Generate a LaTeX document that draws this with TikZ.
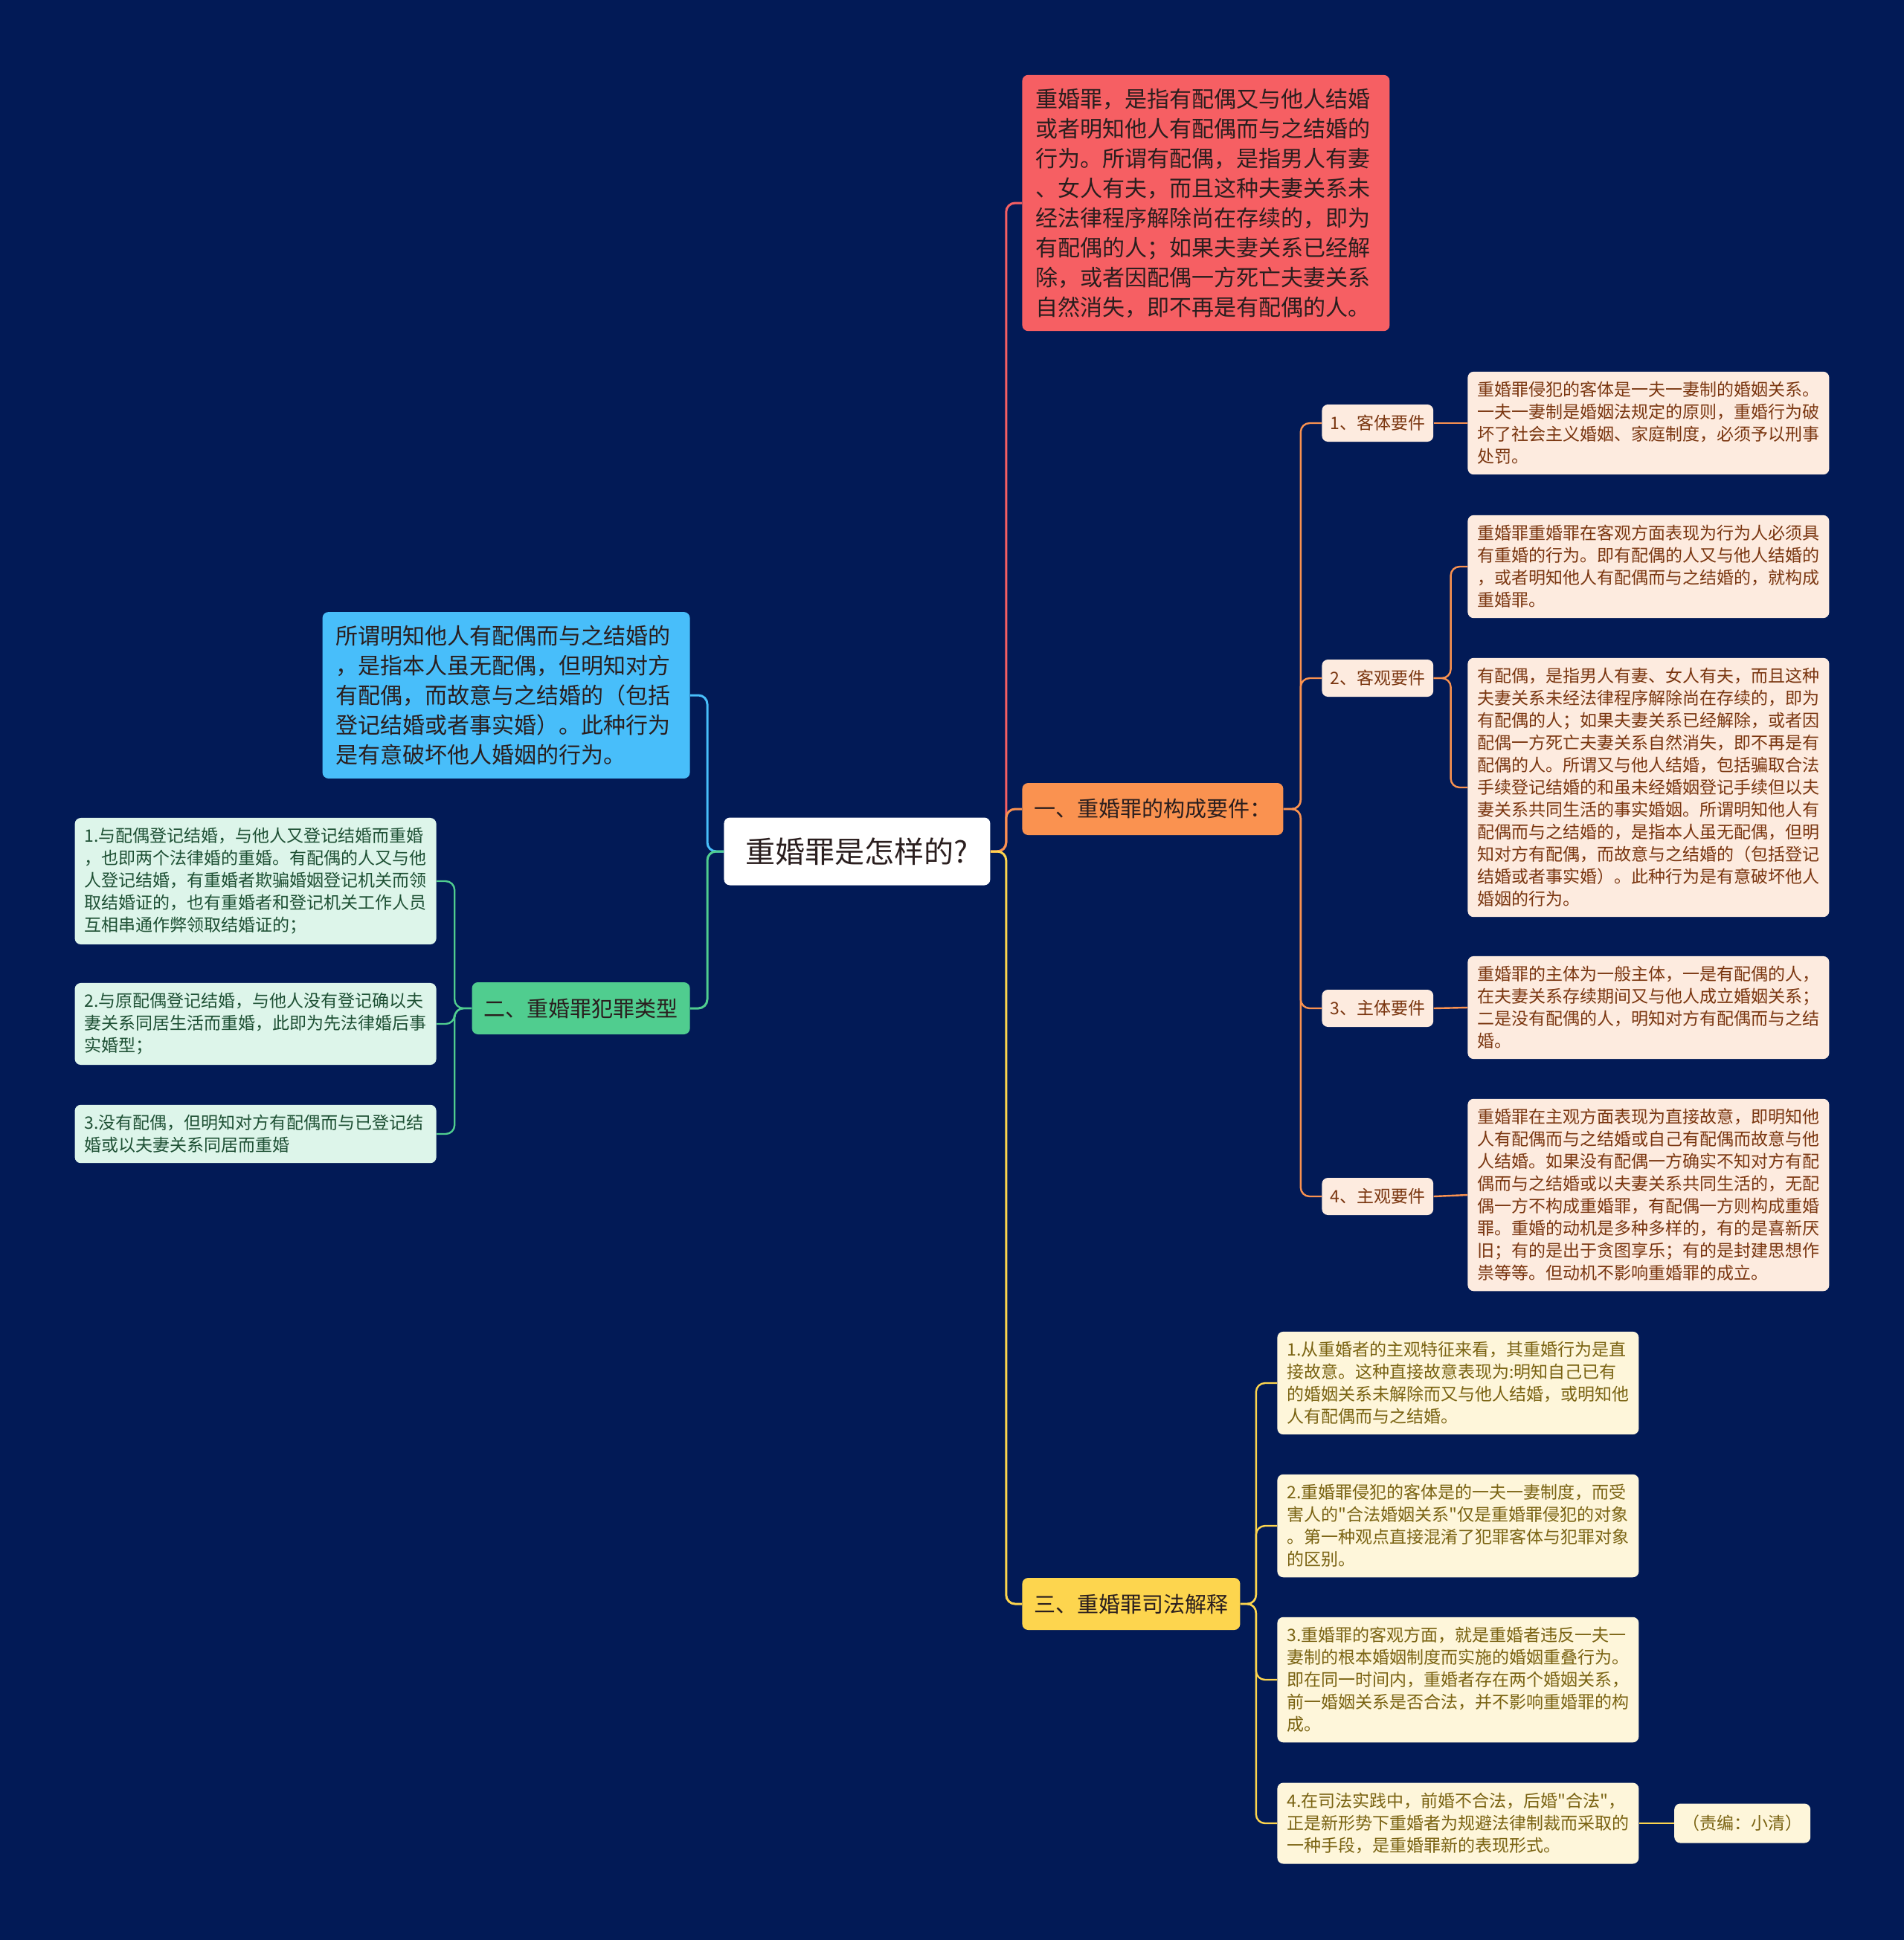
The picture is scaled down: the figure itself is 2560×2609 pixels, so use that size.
\documentclass[tikz,border=0pt]{standalone}
\usepackage{fontspec}
\setmainfont{Noto Sans CJK SC}[Ligatures=TeXOff]
\usepackage{xcolor}
\usepackage{tikz}
\usetikzlibrary{positioning}

\definecolor{navy}{HTML}{021A56}
\definecolor{coral}{HTML}{F65F63}
\definecolor{sky}{HTML}{48BEFA}
\definecolor{jade}{HTML}{50CD8F}
\definecolor{amber}{HTML}{FA9250}
\definecolor{gold}{HTML}{FDD54E}
\definecolor{peach}{HTML}{FDEBDF}
\definecolor{brown}{HTML}{7A3610}
\definecolor{mint}{HTML}{DDF5EA}
\definecolor{forest}{HTML}{1E5034}
\definecolor{cream}{HTML}{FEF6DA}
\definecolor{olive}{HTML}{7A6312}
\definecolor{ink}{HTML}{2A1E1E}

\begin{document}
\begin{tikzpicture}[
    x=0.5pt, y=-0.5pt,
    root/.style={rounded corners=4pt, fill=white, text=ink, minimum width=179pt,
                minimum height=45.5pt, font=\fontsize{20}{24}\selectfont},
    topic/.style={rounded corners=4pt, text=ink, minimum height=35pt, inner xsep=8pt,
                font=\fontsize{14.5}{18}\selectfont},
    memo/.style={rounded corners=4pt, text=ink, text width=229pt, align=left,
                inner xsep=9pt, inner ysep=9pt, font=\fontsize{15}{20}\selectfont},
    reqbox/.style={rounded corners=4pt, fill=peach, text=brown, minimum height=25pt,
                inner xsep=5.5pt, font=\fontsize{11.5}{15}\selectfont},
    leaf/.style={rounded corners=4pt, text width=230pt, align=left, inner xsep=6.5pt,
                inner ysep=6.75pt, font=\fontsize{11.5}{15}\selectfont},
    link/.style={line width=1.5pt, rounded corners=6pt},
    twig/.style={line width=1.2pt, rounded corners=6pt}
    ]
    \useasboundingbox (0,0) rectangle (2560,2609);
    \fill[navy] (0,0) rectangle (2560,2609);

    \node[root, anchor=west] (root) at (973,1145) {重婚罪是怎样的?};

    % right side
    \node[memo, fill=coral, anchor=west] (def) at (1374,273)
        {重婚罪，是指有配偶又与他人结婚\\或者明知他人有配偶而与之结婚的\\行为。所谓有配偶，是指男人有妻\\、女人有夫，而且这种夫妻关系未\\经法律程序解除尚在存续的，即为\\有配偶的人；如果夫妻关系已经解\\除，或者因配偶一方死亡夫妻关系\\自然消失，即不再是有配偶的人。};
    \node[topic, fill=amber, anchor=west] (part1) at (1374,1088) {一、重婚罪的构成要件：};
    \node[topic, fill=gold, anchor=west] (part3) at (1374,2157) {三、重婚罪司法解释};

    \node[reqbox, anchor=west] (req1) at (1777,569) {1、客体要件};
    \node[reqbox, anchor=west] (req2) at (1777,912) {2、客观要件};
    \node[reqbox, anchor=west] (req3) at (1777,1356) {3、主体要件};
    \node[reqbox, anchor=west] (req4) at (1777,1609) {4、主观要件};

    \node[leaf, fill=peach, text=brown, anchor=west] (obj) at (1973,569)
        {重婚罪侵犯的客体是一夫一妻制的婚姻关系。\\一夫一妻制是婚姻法规定的原则，重婚行为破\\坏了社会主义婚姻、家庭制度，必须予以刑事\\处罚。};
    \node[leaf, fill=peach, text=brown, anchor=west] (actA) at (1973,762)
        {重婚罪重婚罪在客观方面表现为行为人必须具\\有重婚的行为。即有配偶的人又与他人结婚的\\，或者明知他人有配偶而与之结婚的，就构成\\重婚罪。};
    \node[leaf, fill=peach, text=brown, anchor=west] (actB) at (1973,1059)
        {有配偶，是指男人有妻、女人有夫，而且这种\\夫妻关系未经法律程序解除尚在存续的，即为\\有配偶的人；如果夫妻关系已经解除，或者因\\配偶一方死亡夫妻关系自然消失，即不再是有\\配偶的人。所谓又与他人结婚，包括骗取合法\\手续登记结婚的和虽未经婚姻登记手续但以夫\\妻关系共同生活的事实婚姻。所谓明知他人有\\配偶而与之结婚的，是指本人虽无配偶，但明\\知对方有配偶，而故意与之结婚的（包括登记\\结婚或者事实婚）。此种行为是有意破坏他人\\婚姻的行为。};
    \node[leaf, fill=peach, text=brown, anchor=west] (subj) at (1973,1355)
        {重婚罪的主体为一般主体，一是有配偶的人，\\在夫妻关系存续期间又与他人成立婚姻关系；\\二是没有配偶的人，明知对方有配偶而与之结\\婚。};
    \node[leaf, fill=peach, text=brown, anchor=west] (mind) at (1973,1607)
        {重婚罪在主观方面表现为直接故意，即明知他\\人有配偶而与之结婚或自己有配偶而故意与他\\人结婚。如果没有配偶一方确实不知对方有配\\偶而与之结婚或以夫妻关系共同生活的，无配\\偶一方不构成重婚罪，有配偶一方则构成重婚\\罪。重婚的动机是多种多样的，有的是喜新厌\\旧；有的是出于贪图享乐；有的是封建思想作\\祟等等。但动机不影响重婚罪的成立。};

    \node[leaf, fill=cream, text=olive, anchor=west] (law1) at (1717,1860)
        {1.从重婚者的主观特征来看，其重婚行为是直\\接故意。这种直接故意表现为:明知自己已有\\的婚姻关系未解除而又与他人结婚，或明知他\\人有配偶而与之结婚。};
    \node[leaf, fill=cream, text=olive, anchor=west] (law2) at (1717,2052)
        {2.重婚罪侵犯的客体是的一夫一妻制度，而受\\害人的"合法婚姻关系"仅是重婚罪侵犯的对象\\。第一种观点直接混淆了犯罪客体与犯罪对象\\的区别。};
    \node[leaf, fill=cream, text=olive, anchor=west] (law3) at (1717,2259)
        {3.重婚罪的客观方面，就是重婚者违反一夫一\\妻制的根本婚姻制度而实施的婚姻重叠行为。\\即在同一时间内，重婚者存在两个婚姻关系，\\前一婚姻关系是否合法，并不影响重婚罪的构\\成。};
    \node[leaf, fill=cream, text=olive, anchor=west] (law4) at (1717,2452)
        {4.在司法实践中，前婚不合法，后婚"合法"，\\正是新形势下重婚者为规避法律制裁而采取的\\一种手段，是重婚罪新的表现形式。};
    \node[reqbox, fill=cream, text=olive, minimum width=91.5pt, minimum height=26.5pt,
        right=23.5pt of law4] (editor) {（责编：小清）};

    % left side
    \node[memo, fill=sky, anchor=east] (know) at (928,935)
        {所谓明知他人有配偶而与之结婚的\\，是指本人虽无配偶，但明知对方\\有配偶，而故意与之结婚的（包括\\登记结婚或者事实婚）。此种行为\\是有意破坏他人婚姻的行为。};
    \node[topic, fill=jade, anchor=east] (part2) at (928,1356) {二、重婚罪犯罪类型};

    \node[leaf, fill=mint, text=forest, anchor=east] (kind1) at (587,1185)
        {1.与配偶登记结婚，与他人又登记结婚而重婚\\，也即两个法律婚的重婚。有配偶的人又与他\\人登记结婚，有重婚者欺骗婚姻登记机关而领\\取结婚证的，也有重婚者和登记机关工作人员\\互相串通作弊领取结婚证的；};
    \node[leaf, fill=mint, text=forest, anchor=east] (kind2) at (587,1377)
        {2.与原配偶登记结婚，与他人没有登记确以夫\\妻关系同居生活而重婚，此即为先法律婚后事\\实婚型；};
    \node[leaf, fill=mint, text=forest, anchor=east] (kind3) at (587,1525)
        {3.没有配偶，但明知对方有配偶而与已登记结\\婚或以夫妻关系同居而重婚};

    \draw[link, coral] (root.east) -- ++(21,0) |- (def.west);
    \draw[link, amber] (root.east) -- ++(21,0) |- (part1.west);
    \draw[link, gold] (root.east) -- ++(21,0) |- (part3.west);
    \draw[link, sky] (root.west) -- ++(-22,0) |- (know.east);
    \draw[link, jade] (root.west) -- ++(-22,0) |- (part2.east);

    \foreach \r in {req1, req2, req3, req4}
        \draw[twig, amber] (part1.east) -- ++(23,0) |- (\r.west);
    \draw[twig, amber] (req1.east) -- (obj.west);
    \draw[twig, amber] (req2.east) -- ++(23,0) |- (actA.west);
    \draw[twig, amber] (req2.east) -- ++(23,0) |- (actB.west);
    \draw[twig, amber] (req3.east) -- (subj.west);
    \draw[twig, amber] (req4.east) -- (mind.west);

    \foreach \k in {law1, law2, law3, law4}
        \draw[twig, gold] (part3.east) -- ++(21,0) |- (\k.west);
    \draw[twig, gold] (law4.east) -- (editor.west);

    \foreach \k in {kind1, kind2, kind3}
        \draw[twig, jade] (part2.west) -- ++(-23,0) |- (\k.east);
\end{tikzpicture}
\end{document}
